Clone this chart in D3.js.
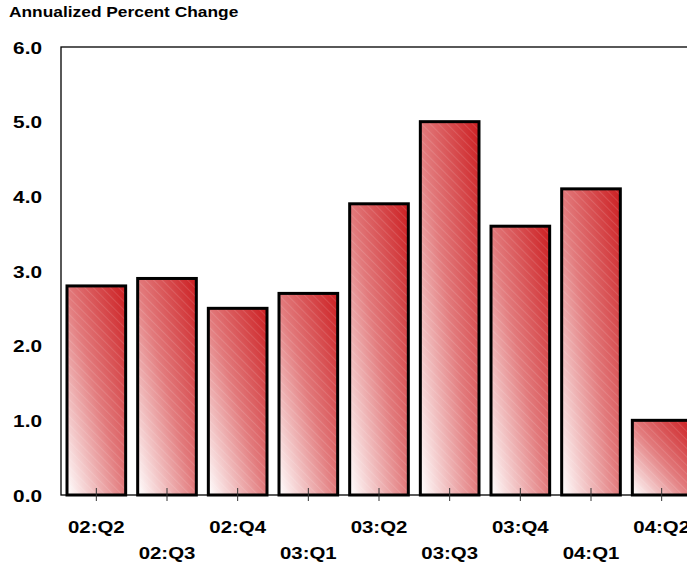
<!DOCTYPE html>
<html>
<head>
<meta charset="utf-8">
<script src="https://cdn.jsdelivr.net/npm/d3@7"></script>
<style>
  html, body { margin: 0; padding: 0; background: #fff; }
  svg { display: block; font-family: "Liberation Sans", Arial, sans-serif; }
</style>
</head>
<body>
<svg id="chart" width="687" height="565"></svg>
<script>
// Quarterly annualized percent change
const quarters = ["02:Q2", "02:Q3", "02:Q4", "03:Q1", "03:Q2", "03:Q3", "03:Q4", "04:Q1", "04:Q2"];
const changes = [2.8, 2.9, 2.5, 2.7, 3.9, 5.0, 3.6, 4.1, 1.0];
const yTicks = [0, 1, 2, 3, 4, 5, 6];

const svg = d3.select("#chart");
const plot = { left: 61, top: 47, right: 697, bottom: 495 };

const x = d3.scaleBand()
  .domain(quarters)
  .range([plot.left, plot.right])
  .paddingInner(0.17)
  .paddingOuter(0.085);

const y = d3.scaleLinear()
  .domain([0, 6])
  .range([plot.bottom, plot.top]);

// Bar fill: red fading to white toward the lower left, with fine diagonal hatching
const defs = svg.append("defs");
const grad = defs.append("linearGradient")
  .attr("id", "barGrad")
  .attr("x1", 0).attr("y1", 1).attr("x2", 1).attr("y2", 0);
grad.append("stop").attr("offset", "0%").attr("stop-color", "#ffffff");
grad.append("stop").attr("offset", "50%").attr("stop-color", "#e27a7c");
grad.append("stop").attr("offset", "100%").attr("stop-color", "#cc1e21");

const hatch = defs.append("pattern")
  .attr("id", "hatch")
  .attr("patternUnits", "userSpaceOnUse")
  .attr("width", 6).attr("height", 6)
  .attr("patternTransform", "rotate(-45)");
hatch.append("line")
  .attr("x1", 0).attr("y1", 0).attr("x2", 0).attr("y2", 6)
  .attr("stroke", "#ffffff").attr("stroke-width", 1)
  .attr("stroke-opacity", 0.25);

// Text is drawn slightly widened horizontally
function wideText(sel, px, py, sx) {
  return sel.attr("transform", (d, i) => `translate(${px(d, i)},${py(d, i)}) scale(${sx},1)`);
}

// Title
svg.append("text")
  .attr("transform", "translate(9,17) scale(1.24,1)")
  .attr("font-size", 14).attr("font-weight", "bold")
  .text("Annualized Percent Change");

// Plot frame
svg.append("rect")
  .attr("x", plot.left).attr("y", plot.top)
  .attr("width", plot.right - plot.left + 20).attr("height", plot.bottom - plot.top)
  .attr("fill", "none").attr("stroke", "#000").attr("stroke-width", 1.3);

// Y axis labels
wideText(
  svg.append("g").selectAll("text")
    .data(yTicks)
    .join("text")
    .attr("text-anchor", "end")
    .attr("font-size", 16).attr("font-weight", "bold")
    .text(d => d.toFixed(1)),
  () => 42, d => y(d) + 6.5, 1.3);

// Bars
const bars = svg.append("g");
bars.selectAll("rect.fill")
  .data(changes)
  .join("rect")
  .attr("class", "fill")
  .attr("x", (d, i) => x(quarters[i]))
  .attr("y", d => y(d))
  .attr("width", x.bandwidth())
  .attr("height", d => y(0) - y(d))
  .attr("fill", "url(#barGrad)");
bars.selectAll("rect.hatch")
  .data(changes)
  .join("rect")
  .attr("class", "hatch")
  .attr("x", (d, i) => x(quarters[i]))
  .attr("y", d => y(d))
  .attr("width", x.bandwidth())
  .attr("height", d => y(0) - y(d))
  .attr("fill", "url(#hatch)")
  .attr("stroke", "#000")
  .attr("stroke-width", 3);

// X axis ticks at category centres
svg.append("g").selectAll("line")
  .data(quarters)
  .join("line")
  .attr("x1", d => x(d) + x.bandwidth() / 2)
  .attr("x2", d => x(d) + x.bandwidth() / 2)
  .attr("y1", plot.bottom - 7)
  .attr("y2", plot.bottom + 6)
  .attr("stroke", "#333").attr("stroke-width", 1);

// Category labels, staggered on two rows
wideText(
  svg.append("g").selectAll("text")
    .data(quarters)
    .join("text")
    .attr("text-anchor", "middle")
    .attr("font-size", 17).attr("font-weight", "bold")
    .text(d => d),
  d => x(d) + x.bandwidth() / 2, (d, i) => i % 2 === 0 ? 533 : 559, 1.2);
</script>
</body>
</html>
